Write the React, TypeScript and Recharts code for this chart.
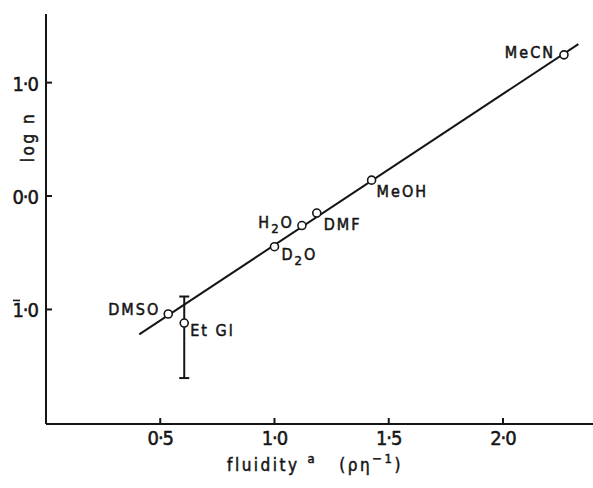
import React from "react";
import {
  ComposedChart, Line, Scatter, XAxis, YAxis, ErrorBar,
} from "recharts";

// fluidity (x) vs log n (y)
const solvents = ["DMSO", "D2O", "H2O", "DMF", "MeOH", "MeCN"];
const fluidity = [0.535, 1.0, 1.12, 1.185, 1.425, 2.267];
const logN = [-1.04, -0.447, -0.26, -0.15, 0.14, 1.245];

// EtGl carries an error bar [below, above]
const etglPoint = { name: "EtGl", x: 0.605, y: -1.12, err: [0.485, 0.234] };

// fitted straight line end points
const fitX = [0.408, 2.33];
const fitY = [-1.22, 1.34];

const xTicks = [0.5, 1.0, 1.5, 2.0];
const yTicks = [-1, 0, 1];

const points = solvents.map((name, i) => ({ name, x: fluidity[i], y: logN[i] }));
const fitLine = fitX.map((x, i) => ({ x, y: fitY[i] }));

const FONT = "'DejaVu Sans Condensed', 'DejaVu Sans', sans-serif";
const INK = "#151515";

// label placement relative to each marker
const labelPos: Record<string, { dx: number; dy: number; anchor: "start" | "end" }> = {
  DMSO: { dx: -8, dy: 1, anchor: "end" },
  EtGl: { dx: 6, dy: 13, anchor: "start" },
  D2O: { dx: 7, dy: 13, anchor: "start" },
  H2O: { dx: -8, dy: 2, anchor: "end" },
  DMF: { dx: 7, dy: 17, anchor: "start" },
  MeOH: { dx: 5, dy: 17, anchor: "start" },
  MeCN: { dx: -9, dy: 3, anchor: "end" },
};

const fmt = (v: number) => Math.abs(v).toFixed(1).replace(".", "\u00b7");

function labelText(name: string) {
  if (name === "D2O" || name === "H2O") {
    return (
      <>
        <tspan>{name[0]}</tspan>
        <tspan dy={5} fontSize={13}>2</tspan>
        <tspan dy={-5}>O</tspan>
      </>
    );
  }
  if (name === "EtGl") return "Et Gl";
  return name;
}

const textStyle = {
  fontFamily: FONT,
  fill: INK,
  stroke: INK,
  strokeWidth: 0.5,
};

const Marker = (props: any) => {
  const { cx, cy, payload } = props;
  const p = labelPos[payload.name];
  return (
    <g>
      <circle cx={cx} cy={cy} r={4} fill="#fff" stroke={INK} strokeWidth={1.6} />
      <text
        x={cx + p.dx}
        y={cy + p.dy}
        textAnchor={p.anchor}
        fontSize={16}
        letterSpacing={2}
        {...textStyle}
      >
        {labelText(payload.name)}
      </text>
    </g>
  );
};

const XTick = (props: any) => {
  const { x, y, payload } = props;
  return (
    <g>
      <line x1={x} x2={x} y1={y} y2={y - 6} stroke={INK} strokeWidth={2} />
      <text x={x} y={y + 21} textAnchor="middle" fontSize={20} letterSpacing={-1} {...textStyle}>
        {fmt(payload.value)}
      </text>
    </g>
  );
};

const YTick = (props: any) => {
  const { x, y, payload } = props;
  const neg = payload.value < 0;
  return (
    <g>
      <line x1={x} x2={x + 6} y1={y} y2={y} stroke={INK} strokeWidth={2} />
      <text x={x - 8} y={y + 8} textAnchor="end" fontSize={20} letterSpacing={-1} {...textStyle}>
        {fmt(payload.value)}
      </text>
      {neg && (
        <line x1={x - 33} x2={x - 26} y1={y - 9} y2={y - 9} stroke={INK} strokeWidth={1.6} />
      )}
    </g>
  );
};

export default function App() {
  return (
    <div style={{ position: "absolute", left: 0, top: 0, background: "#fff" }}>
      <ComposedChart
        width={593}
        height={488}
        margin={{ top: 14, right: 0, bottom: 0, left: 0 }}
      >
        <XAxis
          type="number"
          dataKey="x"
          domain={[0, 2.394]}
          ticks={xTicks}
          tick={<XTick />}
          tickLine={false}
          tickSize={0}
          tickMargin={0}
          height={64}
          axisLine={{ stroke: INK, strokeWidth: 2 }}
          allowDataOverflow
          label={{
            content: ({ viewBox }: any) => (
              <text
                x={viewBox.x + 181}
                y={viewBox.y + 47}
                fontSize={17}
                letterSpacing={2.5}
                {...textStyle}
              >
                <tspan>fluidity</tspan>
                <tspan dx={8} dy={-8} fontSize={13}>a</tspan>
                <tspan dx={22} dy={8}>(ρη</tspan>
                <tspan dy={-8} fontSize={13}>−1</tspan>
                <tspan dy={8}>)</tspan>
              </text>
            ),
          }}
        />
        <YAxis
          type="number"
          dataKey="y"
          domain={[-2.01, 1.605]}
          ticks={yTicks}
          tick={<YTick />}
          tickLine={false}
          tickSize={0}
          tickMargin={0}
          width={46}
          axisLine={{ stroke: INK, strokeWidth: 2 }}
          allowDataOverflow
          label={{
            content: ({ viewBox }: any) => {
              const lx = viewBox.x + 28;
              const ly = viewBox.y + 123;
              return (
                <text
                  x={lx}
                  y={ly}
                  transform={`rotate(-90 ${lx} ${ly})`}
                  textAnchor="middle"
                  dominantBaseline="central"
                  fontSize={17}
                  letterSpacing={2.5}
                  {...textStyle}
                >
                  log n
                </text>
              );
            },
          }}
        />
        <Line
          data={fitLine}
          dataKey="y"
          type="linear"
          stroke={INK}
          strokeWidth={2}
          dot={false}
          activeDot={false}
          isAnimationActive={false}
        />
        <Scatter data={[etglPoint]} dataKey="y" shape={<Marker />} isAnimationActive={false}>
          <ErrorBar dataKey="err" width={5} stroke={INK} strokeWidth={2} direction="y" />
        </Scatter>
        <Scatter data={points} dataKey="y" shape={<Marker />} isAnimationActive={false} />
      </ComposedChart>
    </div>
  );
}
